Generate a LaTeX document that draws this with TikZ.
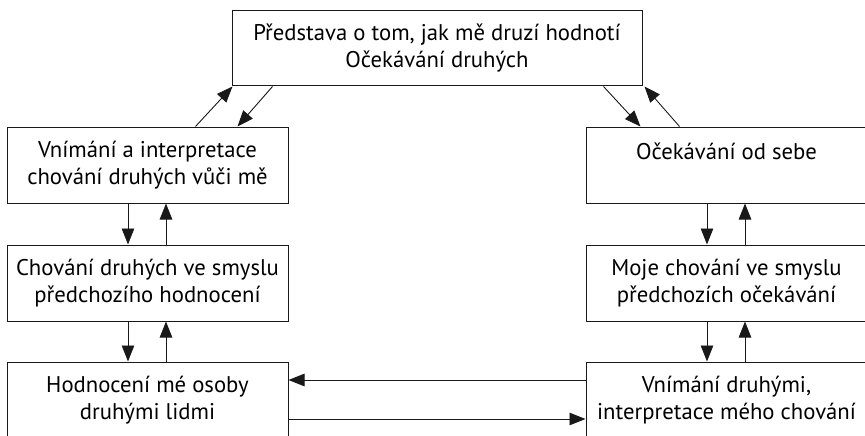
\documentclass[tikz,border=0pt]{standalone}
\usepackage{fontspec}
\setmainfont{PT Sans}
\usetikzlibrary{arrows.meta,calc}
\begin{document}
\begin{tikzpicture}[x=1pt,y=-1pt,
  box/.style={draw=black!90,line width=1pt,minimum width=281pt,minimum height=76pt,inner sep=0pt,align=center,font=\fontsize{22.7}{27}\selectfont},
  arr/.style={draw=black!90,line width=0.9pt,-{Triangle[length=16pt,width=12.5pt]}}]
\useasboundingbox (0,0) rectangle (865,436);
\begin{scope}
\clip (0,0) rectangle (865,436);
\node[box,minimum width=410pt,minimum height=75pt] (top) at (437,48.5) {Představa o tom, jak mě druzí hodnotí\\Očekávání druhých};
\node[box] (l1) at (147.5,165) {Vnímání a interpretace\\chování druhých vůči mě};
\node[box] (l2) at (147.5,283) {Chování druhých ve smyslu\\předchozího hodnocení};
\node[box] (l3) at (147.5,400) {Hodnocení mé osoby\\druhými lidmi};
\node[box] (r1) at (726.5,165) {Očekávání od sebe\\\mbox{}};
\node[box] (r2) at (726.5,283) {Moje chování ve smyslu\\předchozích očekávání};
\node[box] (r3) at (726.5,400) {Vnímání druhými,\\interpretace mého chování};
\end{scope}
% top diagonals
\draw[arr] ([xshift=-93pt]l1.north east) -- ([xshift=1pt]top.south west);
\draw[arr] ([xshift=41pt]top.south west) -- ([xshift=-51pt]l1.north east);
\draw[arr] ([xshift=-39pt]top.south east) -- ([xshift=55pt]r1.north west);
\draw[arr] ([xshift=94pt]r1.north west) -- ([xshift=2pt]top.south east);
% left verticals
\draw[arr] ([xshift=-19.5pt]l1.south) -- ([xshift=-19.5pt]l2.north);
\draw[arr] ([xshift=18.5pt]l2.north) -- ([xshift=18.5pt]l1.south);
\draw[arr] ([xshift=-19.5pt]l2.south) -- ([xshift=-19.5pt]l3.north);
\draw[arr] ([xshift=18.5pt]l3.north) -- ([xshift=18.5pt]l2.south);
% right verticals
\draw[arr] ([xshift=-19.5pt]r1.south) -- ([xshift=-19.5pt]r2.north);
\draw[arr] ([xshift=18.5pt]r2.north) -- ([xshift=18.5pt]r1.south);
\draw[arr] ([xshift=-19.5pt]r2.south) -- ([xshift=-19.5pt]r3.north);
\draw[arr] ([xshift=18.5pt]r3.north) -- ([xshift=18.5pt]r2.south);
% horizontals
\draw[arr] ([yshift=20pt]r3.west) -- ([yshift=20pt]l3.east);
\draw[arr] ([yshift=-19pt]l3.east) -- ([yshift=-19pt]r3.west);
\end{tikzpicture}
\end{document}
